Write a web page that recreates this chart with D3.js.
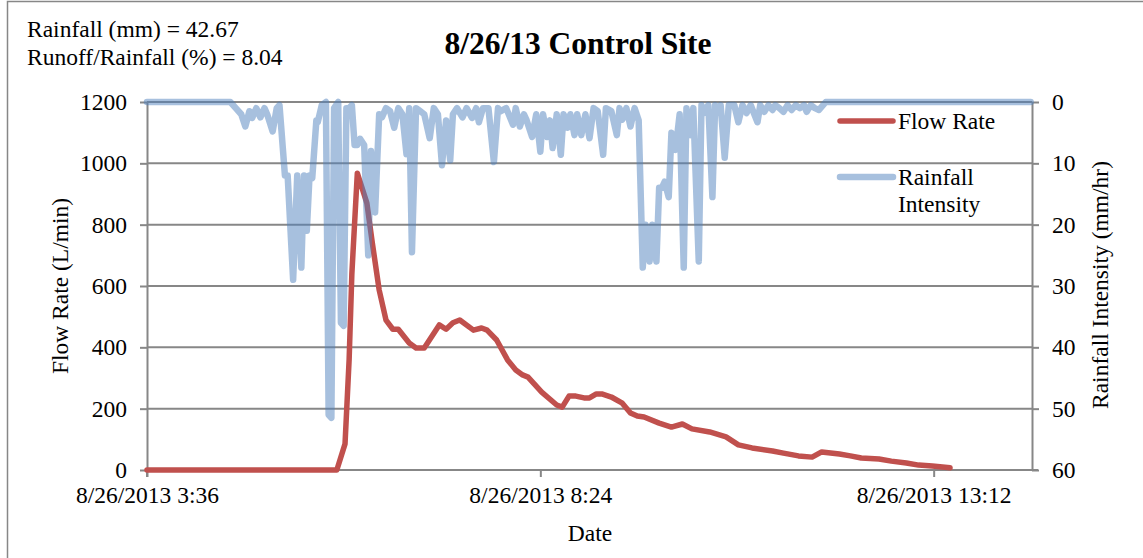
<!DOCTYPE html>
<html>
<head>
<meta charset="utf-8">
<script src="https://d3js.org/d3.v7.min.js"></script>
<style>
  body { margin: 0; background: #fff; }
  text { font-family: "Liberation Serif", "Times New Roman", serif; fill: #000; }
</style>
</head>
<body>
<svg id="chart" width="1143" height="558"></svg>
<script>
// flow rate (L/min), 8/26/2013
var flowTimes = ["3:36","5:55","6:01","6:04","6:06","6:10","6:17","6:21","6:26","6:31","6:36","6:40","6:48","6:53","6:59",
  "7:10","7:15","7:20","7:25","7:35","7:41","7:45","7:52","8:00","8:06","8:11","8:15","8:25","8:36","8:40","8:45","8:50",
  "8:56","9:00","9:05","9:09","9:16","9:24","9:30","9:35","9:40","9:51","10:00","10:08","10:15","10:28","10:40","10:49",
  "10:59","11:14","11:22","11:33","11:43","11:50","12:03","12:11","12:19","12:32","12:41","12:52","13:01","13:11","13:24"];
var flowValues = [0,0,85,360,640,968,870,740,587,489,459,459,414,398,398,
  473,459,480,489,456,463,456,424,359,326,310,303,254,212,205,241,241,
  235,235,248,248,238,218,186,176,173,153,140,150,134,124,108,82,
  72,62,55,46,42,59,52,46,39,36,29,23,16,13,7];

// rainfall intensity (mm/hr)
var rainTimes = ["3:36","4:37","4:41","4:45","4:48","4:51","4:53","4:56","4:59","5:02","5:04","5:08","5:11","5:13",
  "5:17","5:19","5:23","5:26","5:29","5:31","5:33","5:35","5:37","5:40","5:41","5:44","5:47","5:49","5:51","5:53",
  "5:56","5:58","6:00","6:02","6:04","6:06","6:08","6:10","6:12","6:15","6:18","6:20","6:23","6:26","6:28","6:31",
  "6:34","6:37","6:40","6:43","6:46","6:48","6:50","6:53","6:56","6:59","7:03","7:06","7:09","7:12","7:15","7:18",
  "7:20","7:23","7:27","7:30","7:34","7:37","7:39","7:42","7:46","7:50","7:53","7:55","7:59","8:04","8:06","8:09",
  "8:12","8:14","8:18","8:21","8:24","8:26","8:29","8:31","8:33","8:36","8:39","8:41","8:44","8:46","8:49","8:51",
  "8:54","8:57","9:00","9:03","9:06","9:10","9:12","9:16","9:20","9:22","9:24","9:27","9:30","9:33","9:36","9:39",
  "9:41","9:44","9:46","9:49","9:51","9:53","9:55","9:58","10:00","10:03","10:06","10:09","10:11","10:14","10:16",
  "10:20","10:22","10:24","10:27","10:30","10:32","10:33","10:36","10:39","10:42","10:46","10:49","10:52","10:55",
  "10:58","11:03","11:05","11:08","11:11","11:14","11:16","11:19","11:22","11:25","11:28","11:31","11:34","11:37",
  "11:39","11:42","11:45","11:48","11:53","14:23"];
var rainValues = [0,0,1,2,4,1.5,2.6,1,2.5,1,2,4.8,1,0.5,
  12,12,29,12,27,12,21,12,12.4,3,3.3,0.5,0,51,51.5,1,
  0,36,36.5,1,1,0.5,7,7,6,7,25,8,18,2,2.5,1,
  1.5,4.2,1,2,8.5,1,24.5,1,1.5,2,5.9,1,2,10.3,3,9.5,
  2,1,2.5,1,2.6,1,3.3,1,1,9.8,1,1.5,1,3.7,1,4,
  2,3,5.7,2,8.1,2,5.7,3,7.5,2,8.6,2,4.2,2,5.4,2,
  5.4,2,5.9,1,1.5,8.6,1,1.5,5.4,1,2.9,1,4,1,3,27,
  20,26,20,26,14,14,13,15.5,5,7.8,2,27,1,5.4,1,
  26,0.5,1.8,0.5,15.5,0.5,1.8,0.5,9.1,0.5,0.5,3.3,0.5,1.8,
  0.5,3.3,0.5,1.6,0.5,1.3,0.5,1,1.6,0.5,1.3,0.5,1,0.5,
  1.6,0.5,1,1.3,0,0];

var flowTicks = [0,200,400,600,800,1000,1200];
var rainTicks = [0,10,20,30,40,50,60];
var dateTicks = ["3:36","8:24","13:12"];

function toDate(t) {
  var p = t.split(":");
  return new Date(2013, 7, 26, +p[0], +p[1]);
}

var svg = d3.select("#chart");
var plotLeft = 147, plotRight = 1032, plotTop = 102, plotBottom = 470;
var grey = "#878787";

svg.append("rect")
  .attr("x", 7.5).attr("y", 1.5)
  .attr("width", 1160).attr("height", 580)
  .attr("fill", "none").attr("stroke", grey).attr("stroke-width", 1.5);

var x = d3.scaleTime()
  .domain([toDate("3:36"), toDate("14:24")])
  .range([plotLeft, plotRight]);
var y = d3.scaleLinear().domain([0, 1200]).range([plotBottom, plotTop]);
var y2 = d3.scaleLinear().domain([0, 60]).range([plotTop, plotBottom]);

// gridlines
svg.append("g")
  .selectAll("line")
  .data(flowTicks)
  .enter().append("line")
    .attr("x1", plotLeft).attr("x2", plotRight)
    .attr("y1", function(d) { return y(d); })
    .attr("y2", function(d) { return y(d); })
    .attr("stroke", grey).attr("stroke-width", 2);

// axes
var fmt = d3.timeFormat("%-m/%-d/%Y %-H:%M");

var gx = svg.append("g")
  .attr("transform", "translate(0," + plotBottom + ")")
  .call(d3.axisBottom(x).tickValues(dateTicks.map(toDate)).tickFormat(fmt).tickSize(7).tickSizeOuter(0).tickPadding(9));

var gy = svg.append("g")
  .attr("transform", "translate(" + plotLeft + ",0)")
  .call(d3.axisLeft(y).tickValues(flowTicks).tickFormat(d3.format("d")).tickSize(7).tickSizeOuter(0).tickPadding(13));

var gy2 = svg.append("g")
  .attr("transform", "translate(" + plotRight + ",0)")
  .call(d3.axisRight(y2).tickValues(rainTicks).tickFormat(d3.format("d")).tickSize(7).tickSizeOuter(0).tickPadding(13));

[gx, gy, gy2].forEach(function(g) {
  g.select(".domain").attr("stroke", grey).attr("stroke-width", 2);
  g.selectAll(".tick line").attr("stroke", grey).attr("stroke-width", 2);
  g.selectAll(".tick text")
    .style("font-family", "'Liberation Serif', serif")
    .style("font-size", "23.5px")
    .attr("fill", "#000");
});
gx.select(".domain").attr("d", "M" + plotLeft + ",0V7M" + plotLeft + ",0H" + (plotRight + 6));

// series
var flowData = flowTimes.map(function(t, i) { return { t: toDate(t), v: flowValues[i] }; });
var rainData = rainTimes.map(function(t, i) { return { t: toDate(t), v: rainValues[i] }; });

svg.append("path")
  .datum(flowData)
  .attr("fill", "none")
  .attr("stroke", "#C0504D")
  .attr("stroke-width", 5.5)
  .attr("stroke-linejoin", "round")
  .attr("stroke-linecap", "round")
  .attr("d", d3.line().x(function(d) { return x(d.t); }).y(function(d) { return y(d.v); }));

svg.append("path")
  .datum(rainData)
  .attr("fill", "none")
  .attr("stroke", "#4F81BD")
  .attr("stroke-opacity", 0.5)
  .attr("stroke-width", 6.5)
  .attr("stroke-linejoin", "round")
  .attr("stroke-linecap", "round")
  .attr("d", d3.line().x(function(d) { return x(d.t); }).y(function(d) { return y2(d.v); }));

// titles
svg.append("text")
  .attr("x", 578).attr("y", 54)
  .attr("text-anchor", "middle")
  .style("font-size", "31.5px").style("font-weight", "bold")
  .text("8/26/13 Control Site");

svg.append("text").attr("x", 27).attr("y", 37).style("font-size", "23.5px")
  .text("Rainfall (mm) = 42.67");
svg.append("text").attr("x", 27).attr("y", 65).style("font-size", "23.5px")
  .text("Runoff/Rainfall (%) = 8.04");

svg.append("text")
  .attr("x", 590).attr("y", 541)
  .attr("text-anchor", "middle")
  .style("font-size", "23.5px")
  .text("Date");

svg.append("text")
  .attr("transform", "translate(68,286) rotate(-90)")
  .attr("text-anchor", "middle")
  .style("font-size", "23.5px")
  .text("Flow Rate (L/min)");

svg.append("text")
  .attr("transform", "translate(1108,285) rotate(-90)")
  .attr("text-anchor", "middle")
  .style("font-size", "23.5px")
  .text("Rainfall Intensity (mm/hr)");

// legend
var legend = svg.append("g");
legend.append("line")
  .attr("x1", 840).attr("x2", 893).attr("y1", 121).attr("y2", 121)
  .attr("stroke", "#C0504D").attr("stroke-width", 5.5).attr("stroke-linecap", "round");
legend.append("text").attr("x", 898).attr("y", 129).style("font-size", "23.5px").text("Flow Rate");
legend.append("line")
  .attr("x1", 840).attr("x2", 893).attr("y1", 177).attr("y2", 177)
  .attr("stroke", "#4F81BD").attr("stroke-opacity", 0.5).attr("stroke-width", 6.5).attr("stroke-linecap", "round");
legend.append("text").attr("x", 898).attr("y", 185).style("font-size", "23.5px").text("Rainfall");
legend.append("text").attr("x", 898).attr("y", 212).style("font-size", "23.5px").text("Intensity");
</script>
</body>
</html>
